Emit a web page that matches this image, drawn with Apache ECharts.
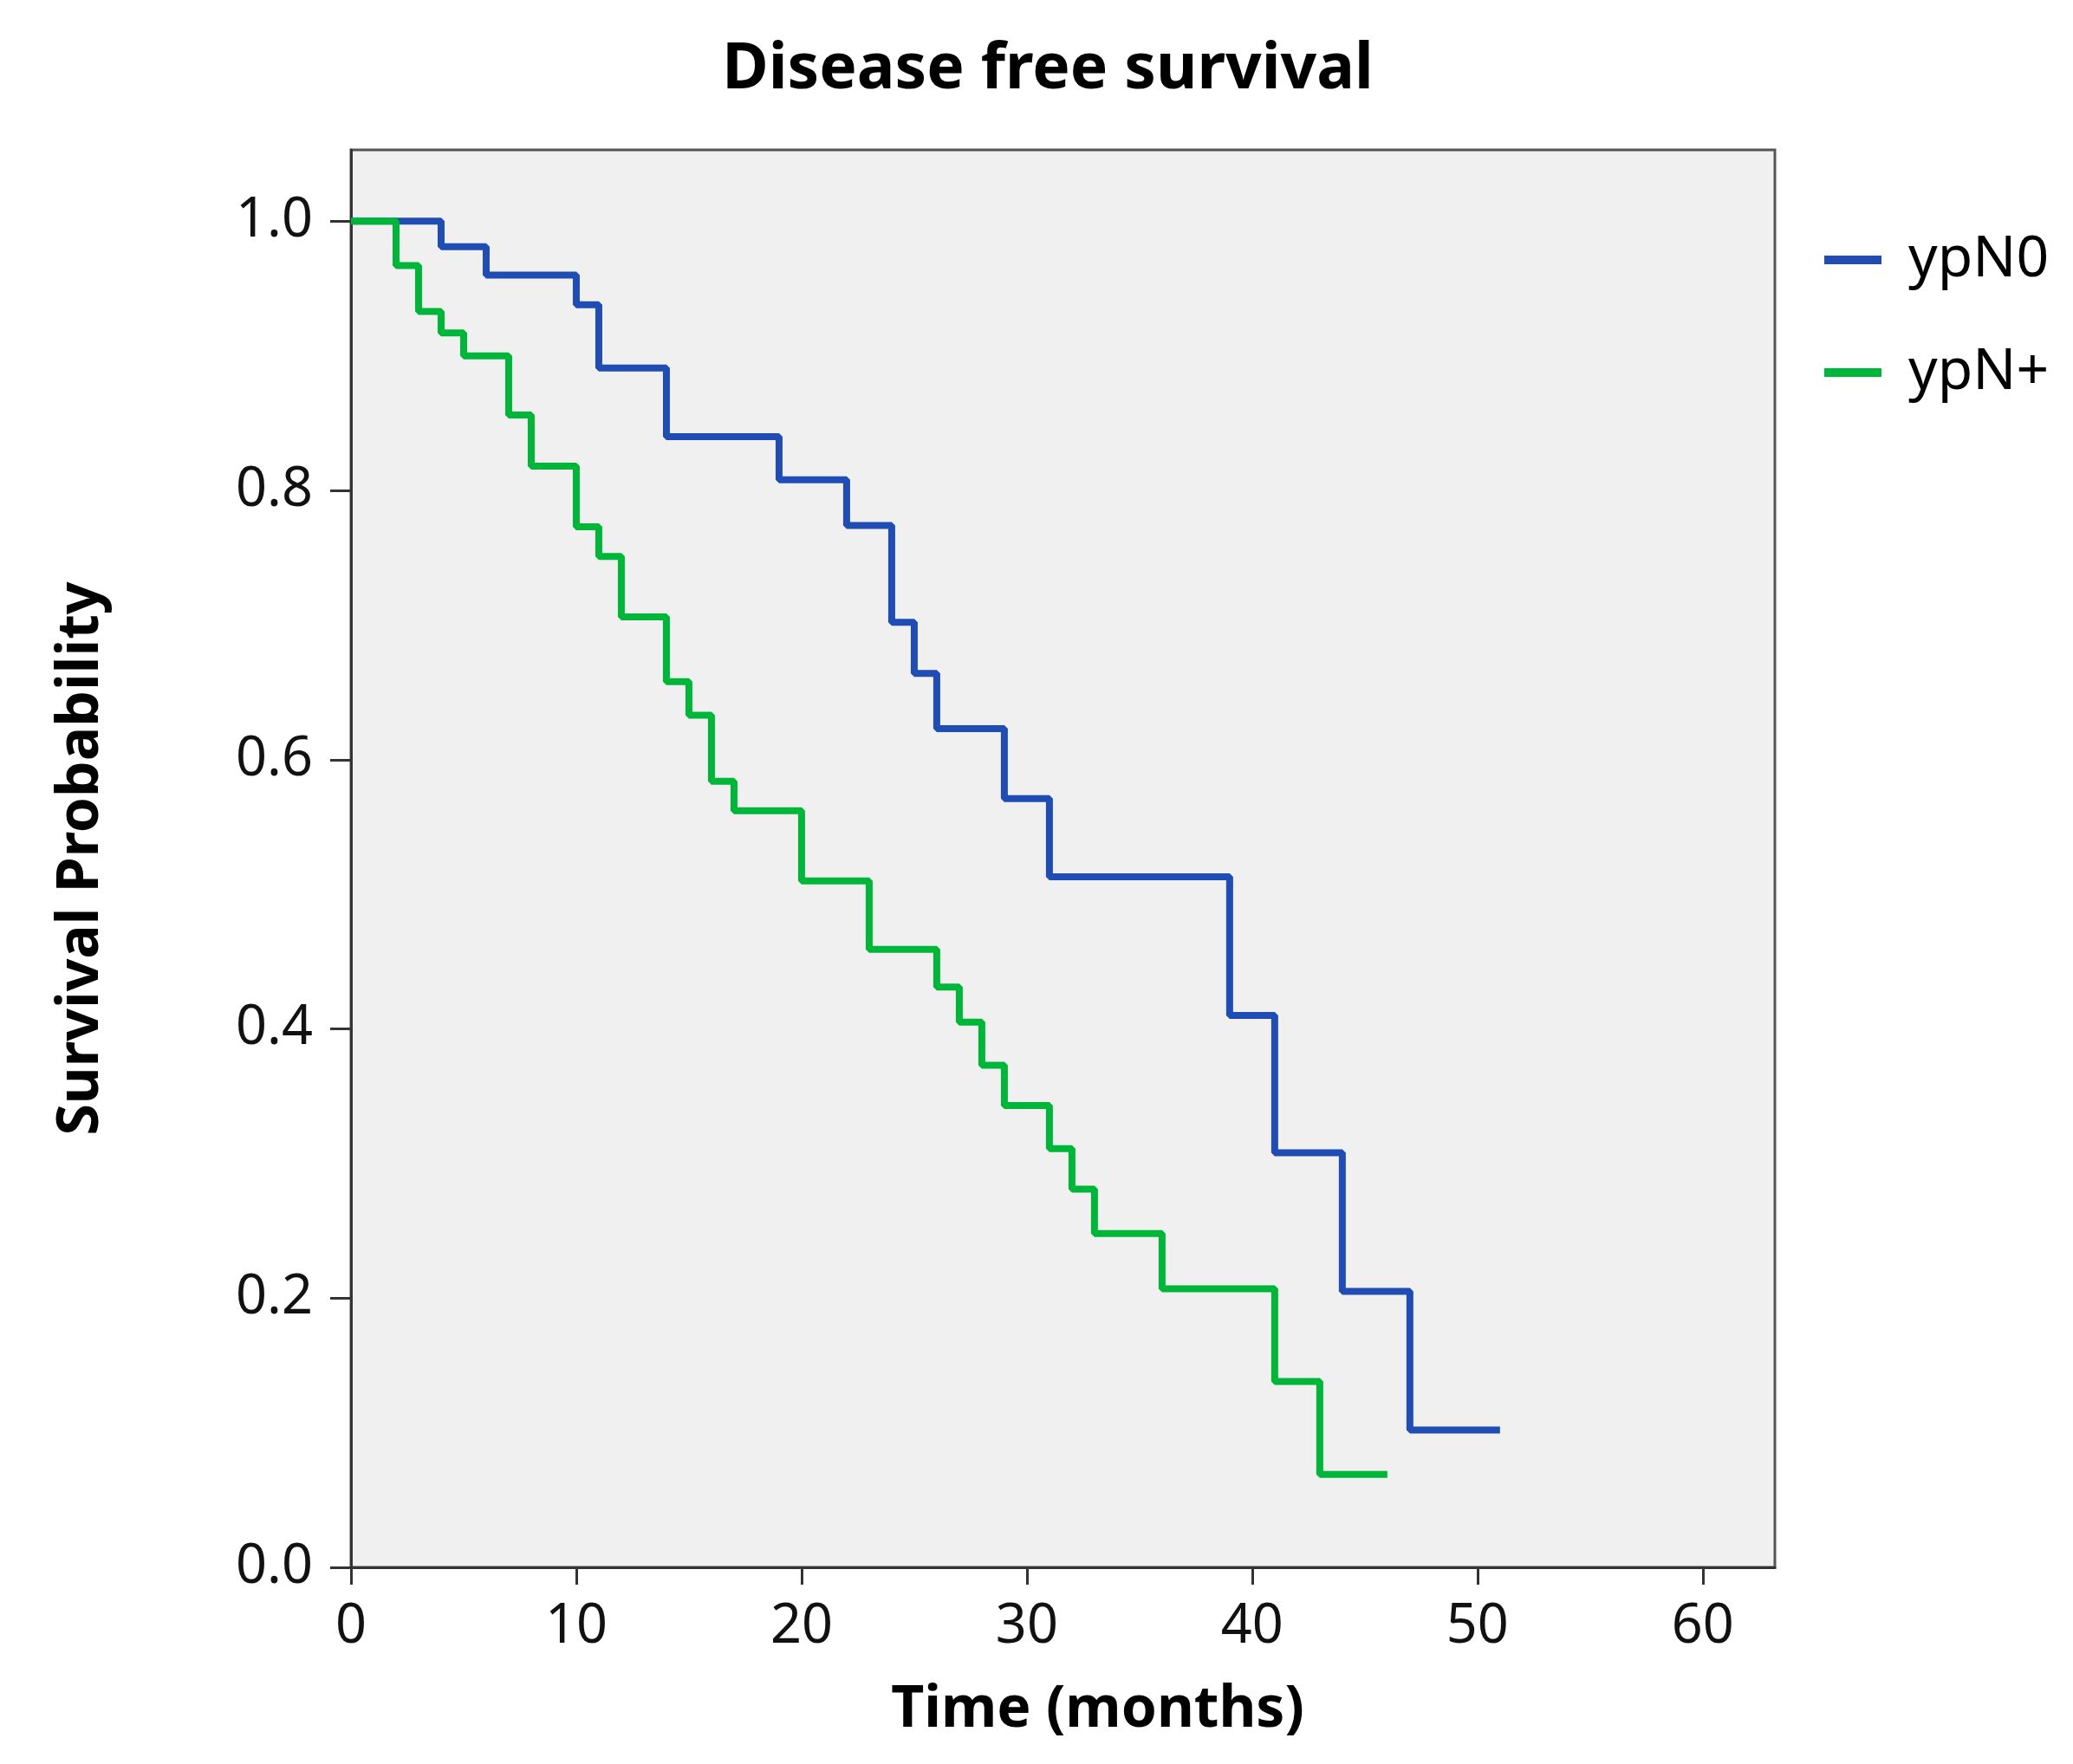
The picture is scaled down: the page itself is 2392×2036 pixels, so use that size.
<!DOCTYPE html>
<html>
<head>
<meta charset="utf-8">
<script src="https://cdn.jsdelivr.net/npm/echarts@6/dist/echarts.min.js"></script>
<style>html,body{margin:0;padding:0;background:#fff;}#c{width:2392px;height:2036px;}</style>
</head>
<body>
<div id="c"></div>
<script>
// ypN0 Kaplan-Meier steps: time (months) and survival after each event
var ypN0Time = [0, 4, 6, 10, 11, 14, 19, 22, 24, 25, 26, 29, 31, 39, 41, 44, 47, 51];
var ypN0Surv = [1.0, 0.981, 0.960, 0.938, 0.891, 0.840, 0.808, 0.774, 0.702, 0.664, 0.623, 0.571, 0.513, 0.410, 0.308, 0.205, 0.102, 0.102];
// ypN+ steps
var ypNpTime = [0, 2, 3, 4, 5, 7, 8, 10, 11, 12, 14, 15, 16, 17, 20, 23, 26, 27, 28, 29, 31, 32, 33, 36, 41, 43, 46];
var ypNpSurv = [1.0, 0.967, 0.933, 0.917, 0.900, 0.856, 0.818, 0.773, 0.751, 0.706, 0.658, 0.633, 0.584, 0.562, 0.510, 0.459, 0.431, 0.405, 0.373, 0.343, 0.311, 0.281, 0.248, 0.207, 0.138, 0.069, 0.069];
var xTicks = [0, 10, 20, 30, 40, 50, 60];
var yTicks = [0, 0.2, 0.4, 0.6, 0.8, 1.0];
var seriesNames = ['ypN0', 'ypN+'];

function pairs(t, s) { return t.map(function (v, i) { return [v, s[i]]; }); }

var font = 'Noto Sans';
var chart = echarts.init(document.getElementById('c'));
chart.setOption({
  backgroundColor: '#ffffff',
  animation: false,
  title: {
    text: 'Disease free survival',
    left: 1204, top: 40, textAlign: 'center',
    textStyle: { fontFamily: font, fontWeight: 'bold', fontSize: 73, color: '#000' }
  },
  legend: {
    orient: 'vertical', left: 2100, top: 259, itemGap: 58,
    icon: 'rect', itemWidth: 66, itemHeight: 10,
    data: seriesNames,
    textStyle: { fontFamily: font, fontSize: 66, color: '#000', lineHeight: 72, padding: [0, 0, 0, 26] }
  },
  grid: {
    left: 405, right: 344, top: 173, bottom: 227,
    show: true, backgroundColor: '#f0f0f0', borderColor: '#555', borderWidth: 3
  },
  xAxis: {
    type: 'value', min: 0, max: 63.2,
    name: 'Time (months)', nameLocation: 'middle', nameGap: 132,
    nameTextStyle: { fontFamily: font, fontWeight: 'bold', fontSize: 66, color: '#000', padding: [0, 0, 0, 80] },
    axisLine: { show: true, lineStyle: { color: '#333', width: 3 } },
    axisTick: { show: true, inside: false, length: 20, customValues: xTicks, lineStyle: { color: '#333', width: 3 } },
    axisLabel: { customValues: xTicks, margin: 38, fontFamily: font, fontSize: 63, color: '#111' },
    splitLine: { show: false }
  },
  yAxis: {
    type: 'value', min: 0, max: 1.053,
    name: 'Survival Probability', nameLocation: 'middle', nameGap: 278,
    nameTextStyle: { fontFamily: font, fontWeight: 'bold', fontSize: 66, color: '#000' },
    axisLine: { show: true, lineStyle: { color: '#333', width: 3 } },
    axisTick: { show: true, inside: false, length: 24, customValues: yTicks, lineStyle: { color: '#333', width: 3 } },
    axisLabel: { customValues: yTicks, margin: 44, fontFamily: font, fontSize: 63, color: '#111',
      formatter: function (v) { return v.toFixed(1); } },
    splitLine: { show: false }
  },
  series: [
    { name: seriesNames[0], type: 'line', step: 'end', symbol: 'none', data: pairs(ypN0Time, ypN0Surv),
      lineStyle: { color: '#1f4db3', width: 8 }, itemStyle: { color: '#1f4db3' } },
    { name: seriesNames[1], type: 'line', step: 'end', symbol: 'none', data: pairs(ypNpTime, ypNpSurv),
      lineStyle: { color: '#00b638', width: 8 }, itemStyle: { color: '#00b638' } }
  ]
});
</script>
</body>
</html>
